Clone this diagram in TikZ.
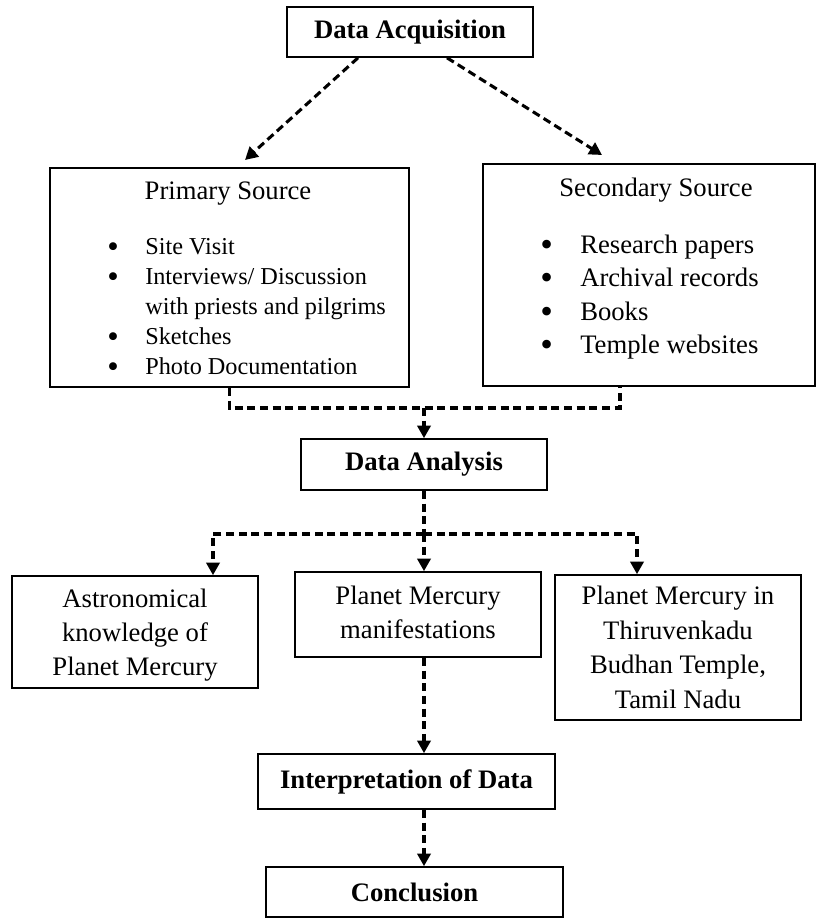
\documentclass[tikz,border=0pt]{standalone}
\usepackage{fontspec}
\usepackage{graphicx}
\setmainfont{Liberation Serif}
\usetikzlibrary{arrows.meta,calc}
\newcommand{\mybul}[1]{\makebox[#1][l]{\raisebox{-0.12em}{\scalebox{1.35}{\textbullet}}}}
\begin{document}
\begin{tikzpicture}[x=0.75pt,y=-0.75pt,
  box/.style={draw,line width=1.25pt,inner sep=0pt,align=center,font=\fontsize{20}{25.5}\selectfont},
  boldbox/.style={box,font=\fontsize{20}{25.5}\selectfont\bfseries},
  txt/.style={inner sep=0pt,font=\fontsize{20}{24}\selectfont},
  conn/.style={line width=2.3pt,dash pattern=on 6pt off 3.5pt},
  arr/.style={conn,-{Triangle[length=9.5pt,width=10pt]}}]
\useasboundingbox (0,0) rectangle (817,920);
% boxes
\node[boldbox,minimum width=184.5pt,minimum height=37.5pt] (acq) at (410,32) {Data Acquisition};
\node[box,minimum width=269.25pt,minimum height=164.25pt] (prim) at (229.5,277.5) {};
\node[box,minimum width=249pt,minimum height=166.5pt] (sec) at (649,275) {};
\node[boldbox,minimum width=184.5pt,minimum height=38.25pt] (ana) at (424,464.5) {Data Analysis};
\node[box,minimum width=184.5pt,minimum height=84pt] (astro) at (135,632) {\rule{0pt}{19pt}Astronomical\\knowledge of\\Planet Mercury};
\node[box,minimum width=184.5pt,minimum height=63.75pt] (mani) at (418,614.5) {Planet Mercury\\manifestations\rule[-4pt]{0pt}{4pt}};
\node[box,minimum width=184.5pt,minimum height=108.75pt,font=\fontsize{20}{26}\selectfont] (thiru) at (678,647.5) {Planet Mercury in\\Thiruvenkadu\\Budhan Temple,\\Tamil Nadu};
\node[boldbox,minimum width=222.75pt,minimum height=41.25pt] (interp) at (406.5,781.5) {Interpretation of Data};
\node[boldbox,minimum width=222.75pt,minimum height=37.5pt] (concl) at (414.5,892) {Conclusion};
% box contents
\node[txt] (ptitle) at (228,194) {Primary Source};
\node[txt,anchor=west,align=left,font=\fontsize{18.2}{22.5}\selectfont] (plist) at (107,308)
  {\mybul{28.5pt}Site Visit\\
   \mybul{28.5pt}Interviews/ Discussion\\
   \hspace*{28.5pt}with priests and pilgrims\\
   \mybul{28.5pt}Sketches\\
   \mybul{28.5pt}Photo Documentation};
\node[txt] (stitle) at (656,190) {Secondary Source};
\node[txt,anchor=west,align=left,font=\fontsize{20}{25}\selectfont] (slist) at (540,297)
  {\mybul{30pt}Research papers\\
   \mybul{30pt}Archival records\\
   \mybul{30pt}Books\\
   \mybul{30pt}Temple websites};
% connectors
\coordinate (pa) at (245,160);
\coordinate (sa) at (602,155);
\draw[arr] ($(acq.south)+(-52,0)$) -- (pa);
\draw[arr] ($(acq.south)+(37,0)$) -- (sa);
\coordinate (j1) at (424,408);
\coordinate (s1) at ($(sec.south)+(-29,0)$);
\draw[conn] (prim.south) |- (s1 |- j1) -- (s1);
\draw[arr] (j1) -- (ana.north);
\coordinate (j2) at (424,534);
\coordinate (ja) at (213,534);
\coordinate (jc) at (637,534);
\draw[conn] (ana.south) -- (j2);
\draw[arr] (j2) -| (astro.north -| ja);
\draw[arr] (j2) -| (thiru.north -| jc);
\draw[arr] (j2) -- (mani.north -| j2);
\draw[arr] (mani.south -| j2) -- (interp.north -| j2);
\draw[arr] (interp.south -| j2) -- (concl.north -| j2);
\end{tikzpicture}
\end{document}
